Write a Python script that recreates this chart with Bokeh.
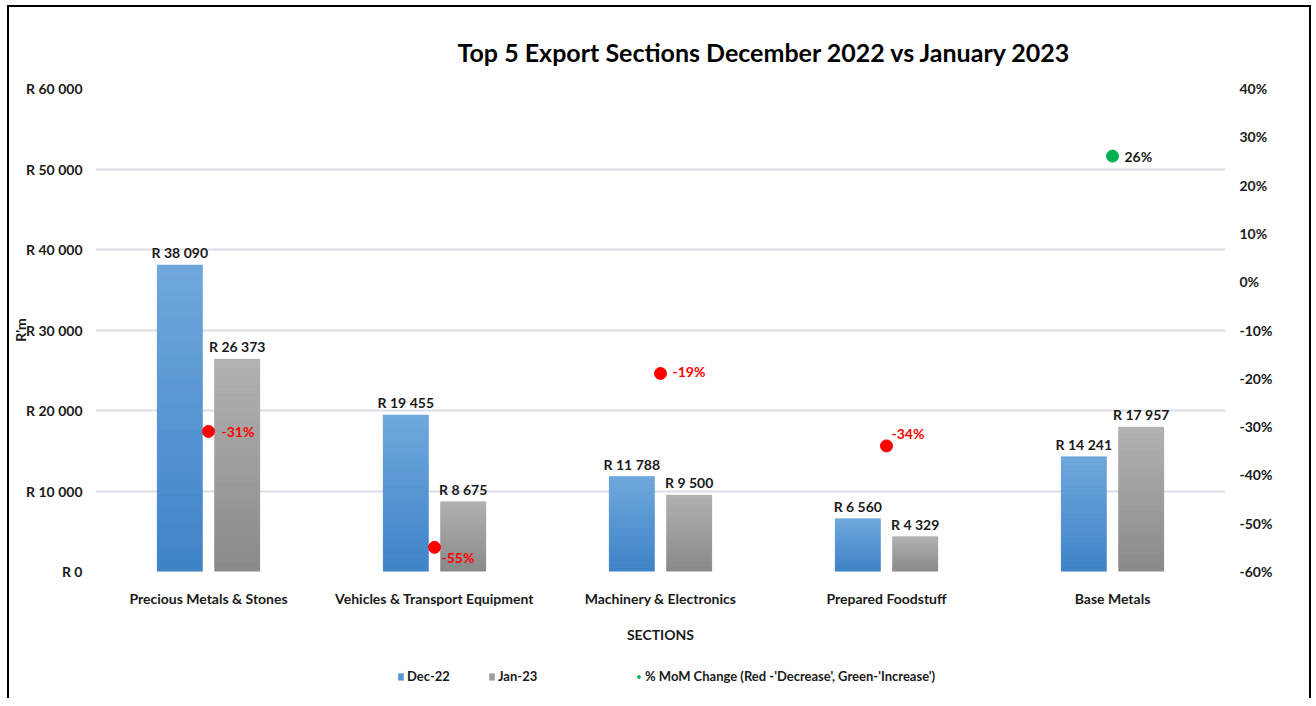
from bokeh.plotting import figure
from bokeh.layouts import column
from bokeh.models import (ColumnDataSource, FactorRange, Range1d, LinearAxis,
                          CustomJSTickFormatter, PrintfTickFormatter, Legend,
                          LegendItem, FixedTicker)
from bokeh.transform import dodge
from bokeh.core.properties import value
from bokeh.embed import file_html
from bokeh.resources import INLINE

# ---------------- data ----------------
categories = ["Precious Metals & Stones", "Vehicles & Transport Equipment",
              "Machinery & Electronics", "Prepared Foodstuff", "Base Metals"]
dec_22 = [38090, 19455, 11788, 6560, 14241]
jan_23 = [26373, 8675, 9500, 4329, 17957]
mom_change = [-31, -55, -19, -34, 26]
left_ticks = [0, 10000, 20000, 30000, 40000, 50000, 60000]
right_ticks = [-60, -50, -40, -30, -20, -10, 0, 10, 20, 30, 40]
series_names = ["Dec-22", "Jan-23", "% MoM Change (Red -'Decrease', Green-'Increase')"]

# ---------------- styles ----------------
FONT = "Lato"
TXT = "#1a1a1a"
BLUE_TOP, BLUE_BOT = (112, 168, 221), (62, 131, 199)
GRAY_TOP, GRAY_BOT = (178, 178, 178), (137, 137, 137)
RED, GREEN = "#ff0000", "#00b050"
DOT_COLORS = [RED if v < 0 else GREEN for v in mom_change]
PCT_TEXT_COLORS = [RED if v < 0 else TXT for v in mom_change]
pct_dx = [13, 7, 12, 5, 12]
pct_dy = [0, 10, -2, -12, 0]
legend_x = [302, 393, 540]
DODGE = 0.127
BAR_W = 0.2
N_SLICES = 24
W = 1300


def fmt_r(v):
    return "R " + f"{v:,}".replace(",", " ")


def hexcol(c):
    return "#%02x%02x%02x" % tuple(int(round(x)) for x in c)


def lerp(a, b, t):
    return tuple(a[i] + (b[i] - a[i]) * t for i in range(3))


p = figure(x_range=FactorRange(*categories), y_range=Range1d(0, 60000),
           width=W, height=638, output_backend="svg", toolbar_location=None,
           min_border_left=84, min_border_right=84, min_border_top=81,
           min_border_bottom=74)
p.extra_y_ranges = {"pct": Range1d(-60, 40)}
p.outline_line_color = None
p.background_fill_color = "white"
p.border_fill_color = "white"

# ---------------- bars (vertical gradient, light at top) ----------------
mid_colors = []
bar_sources = []
for vals, off, ctop, cbot in [(dec_22, -DODGE, BLUE_TOP, BLUE_BOT),
                              (jan_23, DODGE, GRAY_TOP, GRAY_BOT)]:
    mid = hexcol(lerp(cbot, ctop, 0.5))
    mid_colors.append(mid)
    base_src = ColumnDataSource(dict(cat=categories, top=vals))
    bar_sources.append(base_src)
    p.vbar(x=dodge("cat", off, range=p.x_range), top="top", width=BAR_W,
           source=base_src, fill_color=mid, line_color=None)
    cats, bots, tops, cols = [], [], [], []
    for c, v in zip(categories, vals):
        for i in range(N_SLICES):
            cats.append(c)
            bots.append(v * i / N_SLICES)
            tops.append(v * (i + 1) / N_SLICES)
            cols.append(hexcol(lerp(cbot, ctop, (i + 0.5) / N_SLICES)))
    s_src = ColumnDataSource(dict(cat=cats, bottom=bots, top=tops, color=cols))
    p.vbar(x=dodge("cat", off, range=p.x_range), bottom="bottom", top="top",
           width=BAR_W, source=s_src, fill_color="color", line_color="color",
           line_width=0.4)
    lab_src = ColumnDataSource(dict(cat=categories, top=vals,
                                    txt=[fmt_r(v) for v in vals]))
    p.text(x=dodge("cat", off, range=p.x_range), y="top", text="txt",
           source=lab_src, text_align="center", text_baseline="bottom",
           y_offset=-4, text_font=value(FONT), text_font_size="14px",
           text_font_style="bold", text_color=TXT)

# ---------------- % MoM change dots ----------------
pct_src = ColumnDataSource(dict(cat=categories, pct=mom_change, color=DOT_COLORS,
                                tcolor=PCT_TEXT_COLORS,
                                txt=[f"{v}%" for v in mom_change],
                                dx=pct_dx, dy=pct_dy))
p.scatter(x="cat", y="pct", source=pct_src, y_range_name="pct", size=12,
          fill_color="color", line_color="color", marker="circle")
p.text(x="cat", y="pct", text="txt", source=pct_src, y_range_name="pct",
       x_offset="dx", y_offset="dy", text_align="left", text_baseline="middle",
       text_font=value(FONT), text_font_size="14px", text_font_style="bold",
       text_color="tcolor")

# ---------------- axes & grid ----------------
yl = p.yaxis[0]
yl.ticker = FixedTicker(ticks=left_ticks)
yl.formatter = CustomJSTickFormatter(
    code="return 'R ' + Math.round(tick).toString().replace(/\\B(?=(\\d{3})+(?!\\d))/g, ' ');")
yl.axis_label = "R'm"
yl.axis_label_standoff = -6

yr = LinearAxis(y_range_name="pct", ticker=FixedTicker(ticks=right_ticks),
                formatter=PrintfTickFormatter(format="%d%%"))
p.add_layout(yr, "right")

p.xaxis.axis_label = "SECTIONS"
p.xaxis.major_label_standoff = 18
p.xaxis.axis_label_standoff = 16
yl.major_label_standoff = 13
yr.major_label_standoff = 14

for ax in [p.xaxis[0], yl, yr]:
    ax.axis_line_color = None
    ax.major_tick_line_color = None
    ax.minor_tick_line_color = None
    ax.major_tick_in = 0
    ax.major_tick_out = 0
    ax.major_label_text_font = FONT
    ax.major_label_text_font_size = "14px"
    ax.major_label_text_font_style = "bold"
    ax.major_label_text_color = TXT
    ax.axis_label_text_font = FONT
    ax.axis_label_text_font_size = "14px"
    ax.axis_label_text_font_style = "bold"
    ax.axis_label_text_color = TXT

p.xgrid.grid_line_color = None
p.ygrid.grid_line_color = "#d9dee8"
p.ygrid.grid_line_width = 2
p.ygrid.ticker = FixedTicker(ticks=left_ticks)

# ---------------- title ----------------
p.title.text = "Top 5 Export Sections  December 2022 vs January 2023"
p.title.text_font = FONT
p.title.text_font_size = "25px"
p.title.text_font_style = "bold"
p.title.text_color = "#000000"
p.title.align = "left"
p.title.offset = 362
p.title.standoff = 44

# ---------------- legend strip (proxies of zero height, far outside its range) ----------------
p2 = figure(width=W, height=53, output_backend="svg", toolbar_location=None,
            x_range=p.x_range, y_range=Range1d(1e7, 1e7 + 1),
            x_axis_location=None, y_axis_location=None,
            min_border=0, min_border_top=10)
p2.grid.visible = False
p2.outline_line_color = None
p2.background_fill_color = "white"
p2.border_fill_color = "white"
lr1 = p2.vbar(x="cat", top="top", bottom="top", width=BAR_W, source=bar_sources[0],
              fill_color=mid_colors[0], line_color=None)
lr2 = p2.vbar(x="cat", top="top", bottom="top", width=BAR_W, source=bar_sources[1],
              fill_color=mid_colors[1], line_color=None)
lr3 = p2.scatter(x="cat", y="pct", source=pct_src, size=12, fill_color="color",
                 line_color="color", marker="circle")
for name, rend, lx, idx in zip(series_names, [lr1, lr2, lr3], legend_x, [0, 0, 4]):
    lg = Legend(items=[LegendItem(label=name, renderers=[rend], index=idx)],
                orientation="horizontal", location=(lx, 14))
    lg.glyph_width = 7
    lg.glyph_height = 9
    lg.label_standoff = 3
    lg.label_text_font = FONT
    lg.label_text_font_size = "13px"
    lg.label_text_font_style = "bold"
    lg.label_text_color = TXT
    lg.border_line_color = None
    lg.background_fill_alpha = 0
    lg.padding = 4
    lg.margin = 0
    p2.add_layout(lg, "center")

layout = column(p, p2, spacing=0,
                styles={"border-left": "2px solid #000", "border-top": "2px solid #000",
                        "border-right": "2px solid #000",
                        "margin-left": "7px", "margin-top": "5px"})

open("out.html", "w").write(file_html(layout, INLINE))
